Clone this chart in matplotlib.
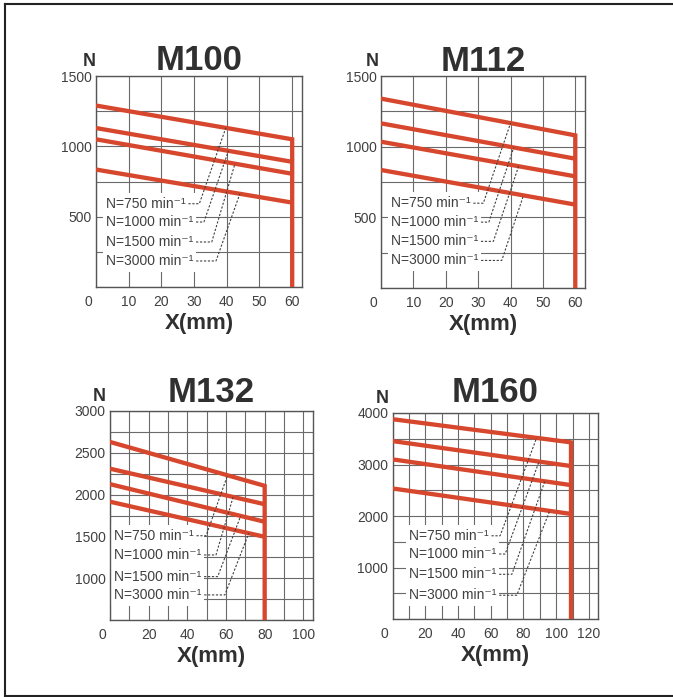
import numpy as np
import matplotlib
matplotlib.use('Agg')
from matplotlib import pyplot as plt
from matplotlib.lines import Line2D
from matplotlib.patches import Rectangle
from matplotlib.transforms import offset_copy

plt.rcParams['font.family'] = ['Liberation Sans', 'DejaVu Sans']

# ---- data (force N vs stroke X in mm) ----
speeds = ['750', '1000', '1500', '3000']
curve_labels = [f'N={s} min⁻¹' for s in speeds]

m100_x = [0, 60]
m100_n = [[1290, 1050], [1130, 890], [1050, 805], [835, 600]]

m112_x = [0, 60]
m112_n = [[1340, 1080], [1165, 915], [1035, 790], [835, 590]]

m132_x = [0, 80]
m132_n = [[2630, 2105], [2310, 1885], [2125, 1675], [1915, 1495]]

m160_x = [0, 109]
m160_n = [[3880, 3430], [3455, 2970], [3100, 2600], [2535, 2040]]

W, H = 673, 697
RED = '#d6472d'
GRID = '#6a6a6a'
TXT = '#404040'
DARK = '#303030'

panels = [
    dict(name='M100', x=m100_x, n=m100_n, xmax=63, ylim=(0, 1500), xstep=10,
         yticks=[500, 1000, 1500], ygrid=250,
         rect=(96, 76, 302, 287), title_dy=6, n_dx=-7,
         lab_x=3, lab_y=[592, 462, 320, 185],
         bend=[31.6, 33, 35.4, 36.7], top=[39.7, 40.5, 42.5, 44]),
    dict(name='M112', x=m112_x, n=m112_n, xmax=63, ylim=(0, 1500), xstep=10,
         yticks=[500, 1000, 1500], ygrid=250,
         rect=(381, 76, 585, 288), title_dy=5, n_dx=-9,
         lab_x=3, lab_y=[600, 466, 330, 195],
         bend=[31.6, 33.3, 34.7, 37.3], top=[40, 41, 42.5, 44]),
    dict(name='M132', x=m132_x, n=m132_n, xmax=105, ylim=(500, 3000), xstep=20,
         yticks=[1000, 1500, 2000, 2500, 3000], ygrid=250,
         rect=(110, 411, 313, 620), title_dy=9, n_dx=-11,
         lab_x=2, lab_y=[1508, 1278, 1019, 800],
         bend=[49.7, 54.8, 55.7, 59.4], top=[60.8, 63.7, 67.6, 71.8]),
    dict(name='M160', x=m160_x, n=m160_n, xmax=125.5, ylim=(0, 4000), xstep=20,
         yticks=[1000, 2000, 3000, 4000], ygrid=500,
         rect=(392.5, 413, 598, 619), title_dy=11, n_dx=-10,
         lab_x=10, lab_y=[1616, 1262, 868, 461],
         bend=[65.7, 68.8, 72.9, 75.9], top=[88, 89.5, 93, 96]),
]

fig = plt.figure(figsize=(W / 100, H / 100), dpi=100)
renderer = fig.canvas.get_renderer()

for p in panels:
    l, t, r, b = p['rect']
    ax = fig.add_axes([l / W, 1 - b / H, (r - l) / W, (b - t) / H])
    ax.set_xlim(0, p['xmax'])
    ax.set_ylim(*p['ylim'])
    ax.set_xticks(np.arange(p['xstep'], p['xmax'], p['xstep']))
    ax.set_xticks(np.arange(0, p['xmax'], 10), minor=True)
    ax.set_yticks(p['yticks'])
    ax.set_yticks(np.arange(p['ylim'][0], p['ylim'][1] + 1, p['ygrid']), minor=True)
    ax.set_axisbelow(True)
    ax.grid(which='both', color=GRID, lw=0.8)
    ax.tick_params(which='both', length=0, labelsize=10, labelcolor=TXT)
    ax.tick_params(axis='x', pad=6)
    ax.tick_params(axis='y', pad=3)
    for s in ax.spines.values():
        s.set_color('#555555')
        s.set_linewidth(1.0)

    # the "0" sits left of the axis corner
    ax.text(0, 0, '0', transform=offset_copy(ax.transAxes, fig=fig, x=-8, y=-6 * 100 / 72, units='dots'),
            ha='center', va='top', fontsize=10, color=TXT)

    # red force curves; the top one drops to the axis at max stroke
    x_end = p['x'][-1]
    for i, vals in enumerate(p['n']):
        if i == 0:
            ax.plot(p['x'] + [x_end], vals + [p['ylim'][0]], color=RED, lw=3.1,
                    solid_joinstyle='miter', zorder=3)
        else:
            ax.plot(p['x'], vals, color=RED, lw=3.1, solid_capstyle='butt', zorder=3)

    # speed labels with white backing block and dashed leaders
    texts = []
    for lab, ly in zip(curve_labels, p['lab_y']):
        texts.append(ax.text(p['lab_x'], ly, lab, fontsize=10, color=TXT, va='center', ha='left', zorder=5))
    inv = ax.transData.inverted()
    boxes = [tx.get_window_extent(renderer) for tx in texts]
    x0 = min(bb.x0 for bb in boxes) - 3
    x1 = max(bb.x1 for bb in boxes) + 3
    y0 = min(bb.y0 for bb in boxes) - 4
    y1 = max(bb.y1 for bb in boxes) + 4
    (dx0, dy0), (dx1, dy1) = inv.transform([(x0, y0), (x1, y1)])
    ax.add_patch(Rectangle((dx0, dy0), dx1 - dx0, dy1 - dy0, facecolor='white',
                           edgecolor='none', zorder=1))

    for bb, ly, vals, bx, tx_ in zip(boxes, p['lab_y'], p['n'], p['bend'], p['top']):
        xs_start = inv.transform((bb.x1 + 3, 0))[0]
        ty = np.interp(tx_, p['x'], vals)
        ax.plot([xs_start, max(bx, xs_start), tx_], [ly, ly, ty], color=TXT, lw=0.8,
                ls=(0, (2, 1.5)), zorder=4)

    # titles and axis names
    ax.text(0.5, 1, p['name'], transform=offset_copy(ax.transAxes, fig=fig, y=p['title_dy'], units='dots'),
            ha='center', va='baseline', fontsize=25, fontweight='bold', color=DARK)
    ax.text(0, 1, 'N', transform=offset_copy(ax.transAxes, fig=fig, x=p['n_dx'], y=10, units='dots'),
            ha='center', va='baseline', fontsize=13, fontweight='bold', color=DARK)
    ax.text(0.5, 0, 'X(mm)', transform=offset_copy(ax.transAxes, fig=fig, y=-42, units='dots'),
            ha='center', va='baseline', fontsize=16, fontweight='bold', color=DARK)

# page frame (right edge runs off the picture)
fx = 4.5 / W
ft = 1 - 4 / H
fb = 1 - 695.5 / H
for xs, ys in [([fx, fx], [fb, ft]), ([fx, 1.01], [ft, ft]), ([fx, 1.01], [fb, fb])]:
    fig.add_artist(Line2D(xs, ys, transform=fig.transFigure, color='#222222', lw=1.5))

fig.savefig('out.png', dpi=100)
